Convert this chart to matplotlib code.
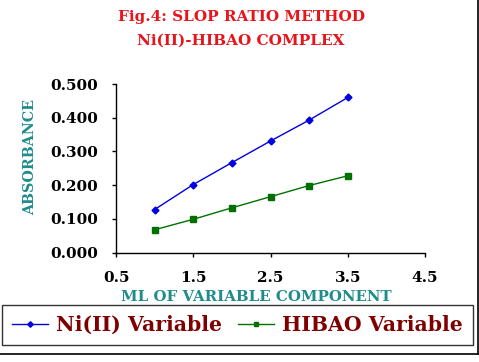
import matplotlib
matplotlib.use("Agg")
import matplotlib.pyplot as plt
from matplotlib.lines import Line2D

x_ml = [1.0, 1.5, 2.0, 2.5, 3.0, 3.5]
ni_variable = [0.128, 0.202, 0.267, 0.331, 0.393, 0.460]
hibao_variable = [0.068, 0.099, 0.133, 0.166, 0.199, 0.228]
xticks = [0.5, 1.5, 2.5, 3.5, 4.5]
yticks = [0.0, 0.1, 0.2, 0.3, 0.4, 0.5]

W, H = 479, 362
fig = plt.figure(figsize=(W / 100, H / 100), dpi=100)
fig.patch.set_facecolor("white")

font = "DejaVu Serif"
red = "#e8141c"
teal = "#1f8c8c"
dark_red = "#7f0000"

ax = fig.add_axes([116 / W, 1 - 252.7 / H, (425 - 116) / W, (252.7 - 84) / H])
ax.plot(x_ml, ni_variable, color="#0000e0", lw=1.0, marker="D", ms=3.5, label="Ni(II) Variable")
ax.plot(x_ml, hibao_variable, color="#007000", lw=1.0, marker="s", ms=4, label="HIBAO Variable")
ax.set_xlim(0.5, 4.5)
ax.set_ylim(0, 0.5)
ax.set_xticks(xticks)
ax.set_yticks(yticks)
ax.set_xticklabels([f"{v:.1f}" for v in xticks], fontfamily=font, fontweight="bold", fontsize=11)
ax.set_yticklabels([f"{v:.3f}" for v in yticks], fontfamily=font, fontweight="bold", fontsize=11)
for s in ["top", "right"]:
    ax.spines[s].set_visible(False)
for s in ["left", "bottom"]:
    ax.spines[s].set_linewidth(1.0)
ax.tick_params(axis="y", direction="out", length=3, width=1, pad=10)
ax.tick_params(axis="x", direction="out", length=3, width=1, pad=10)

fig.text(30 / W, 1 - 157 / H, "ABSORBANCE", rotation=90, ha="center", va="center",
         color=teal, fontfamily=font, fontweight="bold", fontsize=10.3)
fig.text(256 / W, 1 - 297 / H, "ML OF VARIABLE COMPONENT", ha="center", va="center",
         color=teal, fontfamily=font, fontweight="bold", fontsize=10.8)
fig.text(241 / W, 1 - 17 / H, "Fig.4: SLOP RATIO METHOD", ha="center", va="center",
         color=red, fontfamily=font, fontweight="bold", fontsize=11)
fig.text(241 / W, 1 - 41 / H, "Ni(II)-HIBAO COMPLEX", ha="center", va="center",
         color=red, fontfamily=font, fontweight="bold", fontsize=11)

handles, labels = ax.get_legend_handles_labels()
leg = fig.legend(handles, labels, loc="center", bbox_to_anchor=(237.5 / W, 1 - 325 / H),
                 ncol=2, frameon=True, fancybox=False, edgecolor="black",
                 prop={"family": font, "weight": "bold", "size": 14.7},
                 handlelength=1.75, handletextpad=0.4, columnspacing=0.8,
                 borderpad=0.5, borderaxespad=0, markerscale=0.8)
leg.get_frame().set_linewidth(1.0)
for t in leg.get_texts():
    t.set_color(dark_red)

# partial outer frame
fig.add_artist(Line2D([477.5 / W, 477.5 / W], [1 - 354 / H, 1], color="black", lw=1.2, transform=fig.transFigure))
fig.add_artist(Line2D([0, 477.5 / W], [1 - 354 / H, 1 - 354 / H], color="black", lw=1.2, transform=fig.transFigure))

fig.savefig("out.png", dpi=100)
